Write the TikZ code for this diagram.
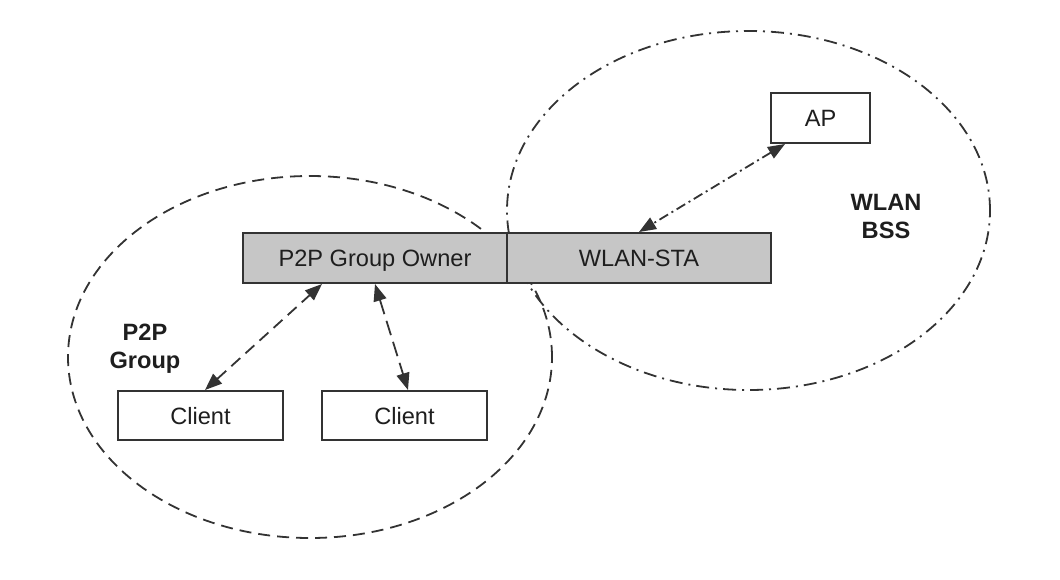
\documentclass[tikz,border=0pt]{standalone}
\usepackage{fontspec}
\setmainfont{Liberation Sans}
\usetikzlibrary{arrows.meta,shapes.geometric}
\definecolor{ln}{HTML}{333333}
\definecolor{barfill}{HTML}{C6C6C6}
\definecolor{txt}{HTML}{1E1E1E}
\tikzset{
  box/.style={draw=ln, line width=2pt, fill=white, inner sep=0pt, text=txt,
    text height=17pt, text depth=0pt,
    font=\fontsize{23.6}{28}\selectfont},
  barbox/.style={box, fill=barfill},
  zone/.style={ellipse, draw=ln, line width=1.8pt, inner sep=0pt},
  p2pline/.style={dash pattern=on 12pt off 7pt},
  bssline/.style={dash pattern=on 13pt off 6pt on 2pt off 6pt},
  link/.style={draw=ln, line width=1.8pt, {Triangle[length=17pt,width=13pt]}-{Triangle[length=17pt,width=13pt]}},
  lbl/.style={font=\fontsize{23.6}{28}\selectfont\bfseries, align=center, text=txt}
}
\begin{document}
\begin{tikzpicture}[x=1pt,y=-1pt]
\useasboundingbox (0,0) rectangle (1060,579);
% zones
\node[zone, p2pline, minimum width=484pt, minimum height=362pt] (p2pzone) at (310,357) {};
\node[zone, bssline, minimum width=483pt, minimum height=359pt] (bsszone) at (748.5,210.5) {};
% boxes
\node[barbox, minimum width=264pt, minimum height=50pt] (gpo) at (375,258) {P2P Group Owner};
\node[barbox, minimum width=264pt, minimum height=50pt] (sta) at (639,258) {WLAN-STA};
\node[box, minimum width=99pt, minimum height=50pt] (ap) at (820.5,118) {AP};
\node[box, minimum width=165pt, minimum height=49pt] (c1) at (200.5,415.5) {Client};
\node[box, minimum width=165pt, minimum height=49pt] (c2) at (404.5,415.5) {Client};
% labels
\node[lbl] (p2plbl) at (145,349) {P2P\\Group};
\node[lbl] (bsslbl) at (886,216) {WLAN\\BSS};
% links
\draw[link, p2pline] ([xshift=4.5pt]c1.north) -- ([xshift=-53pt]gpo.south);
\draw[link, dash pattern=on 15pt off 7pt] (gpo.south) -- ([xshift=3.5pt]c2.north);
\draw[link, dash pattern=on 10pt off 4pt on 2pt off 4pt] ([xshift=-35.5pt]ap.south) -- (sta.north);
\end{tikzpicture}
\end{document}
